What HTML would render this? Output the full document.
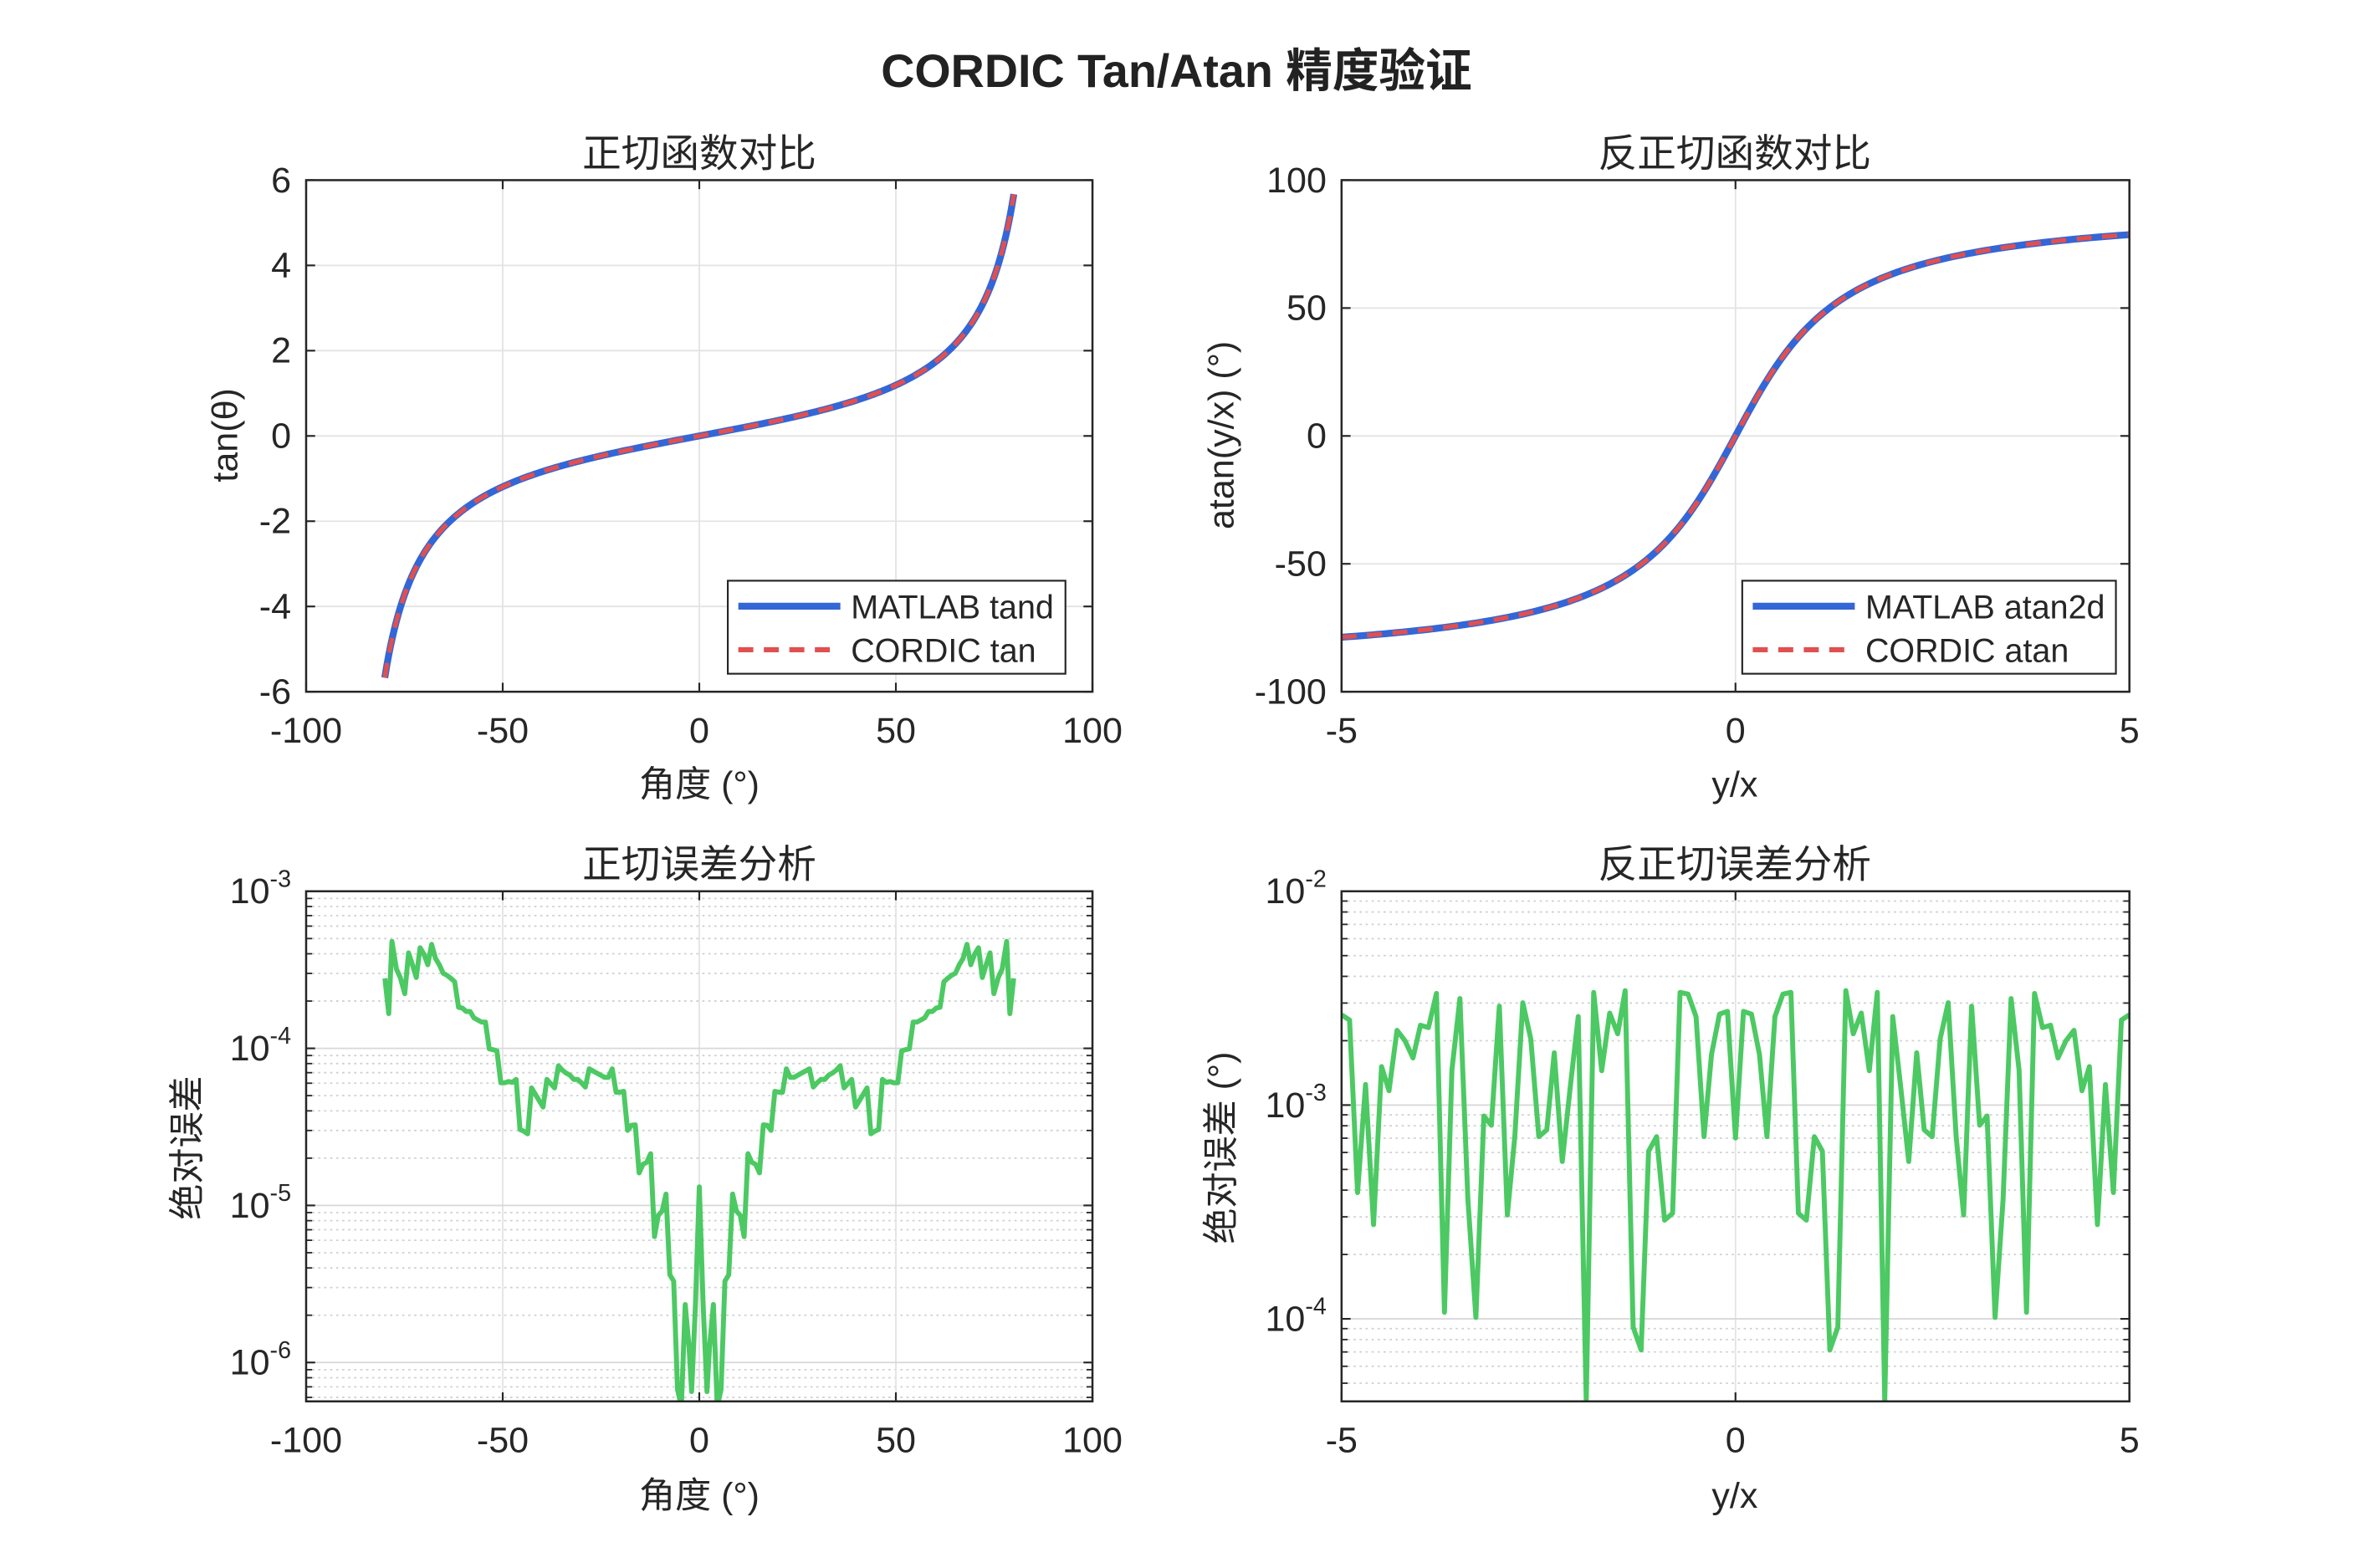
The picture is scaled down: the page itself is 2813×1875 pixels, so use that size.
<!DOCTYPE html>
<html><head><meta charset="utf-8">
<style>
html,body{margin:0;padding:0;background:#fff;}
svg{display:block;font-family:"Liberation Sans","Noto Sans CJK SC",sans-serif;}
</style></head>
<body>
<svg id="s" width="2813" height="1875" viewBox="0 0 1568 1045" xmlns="http://www.w3.org/2000/svg">
<rect width="1568" height="1045" fill="#fff"/>
<text x="784" y="58" text-anchor="middle" font-size="31" font-weight="bold" fill="#222">CORDIC Tan/Atan 精度验证</text>
<g id="g"></g>
<g font-size="23" fill="#262626">
<text x="466" y="111" text-anchor="middle" font-size="26">正切函数对比</text>
<text x="1156" y="111" text-anchor="middle" font-size="26">反正切函数对比</text>
<text x="466" y="585" text-anchor="middle" font-size="26">正切误差分析</text>
<text x="1156" y="585" text-anchor="middle" font-size="26">反正切误差分析</text>
<text x="466" y="531" text-anchor="middle" font-size="24">角度 (°)</text>
<text x="466" y="1005" text-anchor="middle" font-size="24">角度 (°)</text>
<text x="1156" y="531" text-anchor="middle" font-size="24">y/x</text>
<text x="1156" y="1005" text-anchor="middle" font-size="24">y/x</text>
<text transform="translate(158,290) rotate(-90)" text-anchor="middle" font-size="24">tan(θ)</text>
<text transform="translate(822,290) rotate(-90)" text-anchor="middle" font-size="24">atan(y/x) (°)</text>
<text transform="translate(133,765) rotate(-90)" text-anchor="middle" font-size="24">绝对误差</text>
<text transform="translate(822,765) rotate(-90)" text-anchor="middle" font-size="24">绝对误差 (°)</text>
</g>
</svg>
<script>
const NS="http://www.w3.org/2000/svg";const G=document.getElementById('g');
function el(t,a,txt){const e=document.createElementNS(NS,t);for(const k in a)e.setAttribute(k,a[k]);if(txt!==undefined)e.textContent=txt;G.appendChild(e);return e;}
function line(x1,y1,x2,y2,c,w,d){const a={x1,y1,x2,y2,stroke:c,'stroke-width':w};if(d)a['stroke-dasharray']=d;el('line',a);}
function txt(x,y,s,anchor,fs){el('text',{x,y,'text-anchor':anchor,'font-size':fs||24,fill:'#262626'},s);}
const L=204,R=728,L2=894,R2=1419,T1=120,B1=461,T2=594,B2=934;
function linAxes(x0,x1,y0,y1,xt,xmin,xmax,yt,ymin,ymax){
  xt.forEach(v=>{const x=x0+(v-xmin)/(xmax-xmin)*(x1-x0);line(x,y0,x,y1,'#e3e3e3',1);line(x,y1,x,y1-6,'#262626',1.2);line(x,y0,x,y0+6,'#262626',1.2);txt(x,y1+34,String(v),'middle');});
  yt.forEach(v=>{const y=y1-(v-ymin)/(ymax-ymin)*(y1-y0);line(x0,y,x1,y,'#e3e3e3',1);line(x0,y,x0+6,y,'#262626',1.2);line(x1,y,x1-6,y,'#262626',1.2);txt(x0-10,y+8,String(v),'end');});
}
function box(x0,x1,y0,y1){el('rect',{x:x0,y:y0,width:x1-x0,height:y1-y0,fill:'none',stroke:'#262626','stroke-width':1.4});}
linAxes(L,R,T1,B1,[-100,-50,0,50,100],-100,100,[-6,-4,-2,0,2,4,6],-6,6);
linAxes(L2,R2,T1,B1,[-5,0,5],-5,5,[-100,-50,0,50,100],-100,100);
function logAxes(x0,x1,y0,y1,xt,xmin,xmax,ltop,lbot){
  const Y=l=>y0+(ltop-l)/(ltop-lbot)*(y1-y0);
  for(let d=Math.floor(lbot);d<ltop;d++){for(let m=2;m<10;m++){const l=d+Math.log10(m);if(l<lbot||l>ltop)continue;const y=Y(l);line(x0,y,x1,y,'#d0d0d0',1,'1.5,2.5');line(x0,y,x0+4,y,'#262626',1);line(x1,y,x1-4,y,'#262626',1);}}
  xt.forEach(v=>{const x=x0+(v-xmin)/(xmax-xmin)*(x1-x0);line(x,y0,x,y1,'#e3e3e3',1);line(x,y1,x,y1-6,'#262626',1.2);line(x,y0,x,y0+6,'#262626',1.2);txt(x,y1+34,String(v),'middle');});
  for(let d=Math.ceil(lbot);d<=ltop;d++){const y=Y(d);line(x0,y,x1,y,'#d8d8d8',1);line(x0,y,x0+6,y,'#262626',1.2);line(x1,y,x1-6,y,'#262626',1.2);
    const t=el('text',{x:x0-10,y:y+8,'text-anchor':'end','font-size':24,fill:'#262626'});t.innerHTML='10<tspan dy="-11" font-size="16">'+d+'</tspan>';}
  return Y;
}
logAxes(L,R,T2,B2,[-100,-50,0,50,100],-100,100,-3,-3-(B2-T2)/104.7);
logAxes(L2,R2,T2,B2,[-5,0,5],-5,5,-2,-2-(B2-T2)/142.5);
let p1='';for(let a=-80;a<=80;a+=0.5){const x=L+(a+100)/200*(R-L);const y=B1-(Math.tan(a*Math.PI/180)+6)/12*(B1-T1);p1+=(p1?'L':'M')+x.toFixed(2)+','+y.toFixed(2);}
el('path',{d:p1,fill:'none',stroke:'#3366d6','stroke-width':4.6});
el('path',{d:p1,fill:'none',stroke:'#e05050','stroke-width':3,'stroke-dasharray':'10,7'});
let p2='';for(let v=-5;v<=5.001;v+=0.05){const x=L2+(v+5)/10*(R2-L2);const y=B1-(Math.atan(v)*180/Math.PI+100)/200*(B1-T1);p2+=(p2?'L':'M')+x.toFixed(2)+','+y.toFixed(2);}
el('path',{d:p2,fill:'none',stroke:'#3366d6','stroke-width':4.6});
el('path',{d:p2,fill:'none',stroke:'#e05050','stroke-width':3,'stroke-dasharray':'10,7'});
function legend(x0,x1,a,b){el('rect',{x:x0,y:387,width:x1-x0,height:62,fill:'#fff',stroke:'#262626','stroke-width':1.2});
 line(x0+7,404,x0+75,404,'#3366d6',4.6);line(x0+7,433,x0+75,433,'#e05050',3.4,'10,7');txt(x0+82,412,a,'start',22);txt(x0+82,441,b,'start',22);}
legend(485,710,'MATLAB tand','CORDIC tan');legend(1161,1410,'MATLAB atan2d','CORDIC atan');
const z1=[[340,332],[346,415],[351,245],[358,310],[364,330],[371,368],[377,272],[383,300],[389,330],[395,260],[401,275],[407,300],[413,252],[419,285],[425,300],[431,320],[437,325],[443,332],[449,340],[455,400],[461,402],[467,410],[473,410],[479,425],[485,430],[491,435],[497,435],[503,498],[509,500],[515,503],[521,578],[527,578],[533,575],[539,577],[545,570],[551,688],[557,692],[563,698],[569,590],[575,605],[581,620],[587,635],[593,570],[599,580],[605,590],[611,538],[617,548],[623,555],[629,560],[635,570],[641,570],[647,578],[653,588],[659,545],[665,550],[671,555],[677,560],[683,565],[689,565],[695,545],[701,600],[707,600],[713,598],[719,690],[725,678],[731,677],[737,790],[743,770],[749,765],[755,745],[761,940],[767,890],[773,880],[779,840],[785,1030],[791,1045],[797,1300],[803,1340],[809,1100],[815,1200],[819,1305],[825,1100],[831,823]];
let pts=z1.slice();for(let i=z1.length-2;i>=0;i--)pts.push([1662-z1[i][0],z1[i][1]]);
let d1='';pts.forEach(p=>{const x=L+(p[0]-217)/1228*524,y=T2+(p[1]-127)/1201*340;d1+=(d1?'L':'M')+x.toFixed(2)+','+y.toFixed(2);});
const cp=el('clipPath',{id:'c1'});const cr=document.createElementNS(NS,'rect');cr.setAttribute('x',L);cr.setAttribute('y',T2);cr.setAttribute('width',R-L);cr.setAttribute('height',B2-T2);cp.appendChild(cr);
el('path',{d:d1,fill:'none',stroke:'#4cc963','stroke-width':3.3,'stroke-linejoin':'round','clip-path':'url(#c1)'});
const z2=[[37,395],[52,410],[67,910],[82,597],[97,1003],[112,545],[126,615],[141,440],[156,470],[171,520],[185,425],[200,432],[215,333],[230,1257],[244,555],[259,348],[274,930],[289,1272],[304,688],[318,715],[333,370],[348,975],[362,748],[377,360],[392,465],[407,748],[422,728],[436,505],[451,820],[466,605],[481,400],[496,1515],[510,330],[525,557],[540,390],[555,450],[569,325],[584,1300],[599,1366],[613,790],[628,748],[643,990],[658,970],[672,330],[687,335],[702,400],[717,748],[731,510],[746,393],[761,385],[776,752]];
let pts2=z2.slice();for(let i=z2.length-2;i>=0;i--)pts2.push([1552-z2[i][0],z2[i][1]]);
let d2='';pts2.forEach(p=>{const x=L2+(p[0]-37)/1478*525,y=T2+(p[1]-37)/1478*340;d2+=(d2?'L':'M')+x.toFixed(2)+','+y.toFixed(2);});
const cp2=el('clipPath',{id:'c2'});const cr2=document.createElementNS(NS,'rect');cr2.setAttribute('x',L2);cr2.setAttribute('y',T2);cr2.setAttribute('width',R2-L2);cr2.setAttribute('height',B2-T2);cp2.appendChild(cr2);
el('path',{d:d2,fill:'none',stroke:'#4cc963','stroke-width':3.3,'stroke-linejoin':'round','clip-path':'url(#c2)'});
[[L,R,T1,B1],[L2,R2,T1,B1],[L,R,T2,B2],[L2,R2,T2,B2]].forEach(b=>box(...b));
</script>
</body></html>
